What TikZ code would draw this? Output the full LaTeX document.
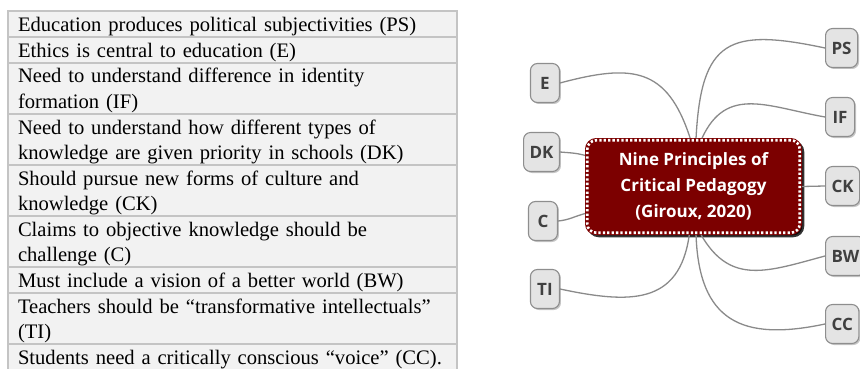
\documentclass[tikz,border=0pt]{standalone}
\usepackage{fontspec}
\setmainfont{Liberation Serif}
\newfontfamily\mapfont{Open Sans}
\usetikzlibrary{positioning,shadows}
\definecolor{tabfill}{HTML}{F2F2F2}
\definecolor{tabline}{HTML}{C4C4C4}
\definecolor{pedred}{HTML}{7C0000}
\definecolor{leaffill}{HTML}{E4E4E4}
\definecolor{leafline}{HTML}{8E8E8E}
\definecolor{linkgray}{HTML}{8A8A8A}
\definecolor{labelgray}{HTML}{404040}
\newcommand{\tabstrut}{\rule[-5.5pt]{0pt}{25.5pt}}
\newcommand{\tabfont}{\fontsize{20.6}{25.5}\selectfont\spaceskip=0.21em plus 0.1em minus 0.05em\relax}

\begin{document}
\begin{tikzpicture}[x=1pt,y=1pt,
    row/.style={draw=tabline,line width=1.2pt,fill=tabfill,outer sep=0pt,inner xsep=10pt,inner ysep=0pt,
      text width=429pt,align=left,font=\tabfont,minimum height=26pt,
      execute at begin node=\tabstrut,execute at end node=\tabstrut},
    tall/.style={minimum height=51pt},
    hub/.style={fill=pedred,rounded corners=9pt,minimum width=212.5pt,minimum height=92.5pt,inner sep=0pt,
      outer sep=2.25pt,align=center,text=white,font=\mapfont\bfseries\fontsize{17}{26}\selectfont,
      drop shadow={shadow xshift=2.5pt,shadow yshift=-2.5pt,opacity=.8,fill=black,draw=black,line width=4pt,solid},
      preaction={draw=pedred,line width=4.5pt,solid},
      draw=white,line width=2.6pt,dash pattern=on 2.3pt off 2.1pt},
    leaf/.style={draw=leafline,fill=leaffill,line width=1.1pt,rounded corners=7pt,minimum width=29pt,
      minimum height=39pt,inner xsep=6pt,text=labelgray,font=\mapfont\bfseries\fontsize{17}{20}\selectfont,
      drop shadow={shadow xshift=1.5pt,shadow yshift=-1.5pt,opacity=.45}},
    link/.style={draw=linkgray,line width=1.3pt}]
  \useasboundingbox (0,0) rectangle (860,-369);
  \node[row,anchor=north west] (tps) at (8,-11) {Education produces political subjectivities (PS)};
  \node[row,below=0pt of tps] (te) {Ethics is central to education (E)};
  \node[row,tall,below=0pt of te] (tif) {Need to understand difference in identity\\formation (IF)};
  \node[row,tall,below=0pt of tif] (tdk) {Need to understand how different types of\\knowledge are given priority in schools (DK)};
  \node[row,tall,below=0pt of tdk] (tck) {Should pursue new forms of culture and\\knowledge (CK)};
  \node[row,tall,below=0pt of tck] (tc) {Claims to objective knowledge should be\\challenge (C)};
  \node[row,below=0pt of tc] (tbw) {Must include a vision of a better world (BW)};
  \node[row,tall,below=0pt of tbw] (tti) {Teachers should be “transformative intellectuals”\\(TI)};
  \node[row,below=0pt of tti] (tcc) {Students need a critically conscious “voice” (CC).};

  \node[hub] (hub) at (693.5,-186.5) {Nine Principles of\\Critical Pedagogy\\(Giroux, 2020)};
  \node[leaf,anchor=east] (e) at (560,-83) {E};
  \node[leaf,anchor=east] (dk) at (560,-152) {DK};
  \node[leaf,anchor=east] (c) at (558,-221) {C};
  \node[leaf,anchor=east] (ti) at (560,-289) {TI};
  \node[leaf,anchor=west] (ps) at (825,-48) {PS};
  \node[leaf,anchor=west] (if) at (825,-117) {IF};
  \node[leaf,anchor=west] (ck) at (825,-186) {CK};
  \node[leaf,anchor=west] (bw) at (825,-256) {BW};
  \node[leaf,anchor=west] (cc) at (825,-324) {CC};

  \draw[link] (e.east) to[out=15,in=108,looseness=1.35] (hub.94);
  \draw[link] (hub.87) to[out=87,in=168,looseness=1.6] (ps.west);
  \draw[link] (hub.80) to[out=65,in=170,looseness=1.2] (if.west);
  \draw[link] (dk.east) to[out=-5,in=165] (hub.164);
  \draw[link] (c.east) to[out=5,in=195] (hub.194);
  \draw[link] (hub.east) -- (ck.west);
  \draw[link] (ti.east) to[out=-12,in=-98,looseness=1.3] (hub.265);
  \draw[link] (hub.279) to[out=-60,in=195,looseness=1.2] (bw.west);
  \draw[link] (hub.273) to[out=-88,in=192,looseness=1.4] (cc.west);
\end{tikzpicture}
\end{document}
